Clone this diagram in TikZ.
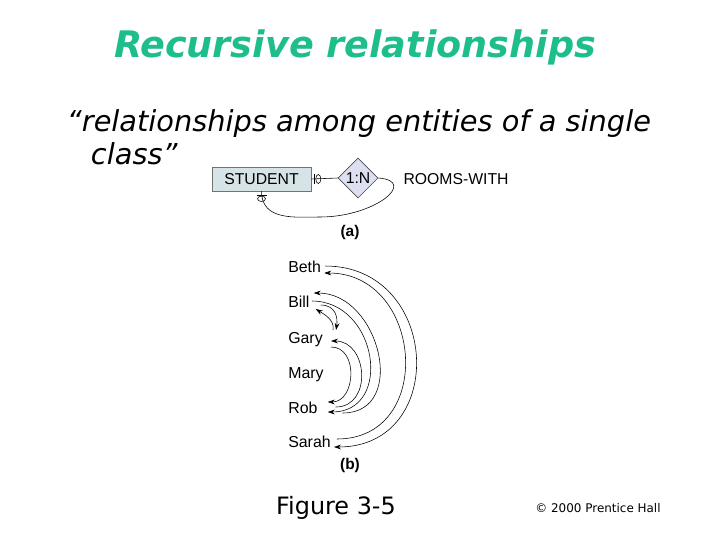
\documentclass[tikz,border=0pt]{standalone}
\usepackage{fontspec}
\setmainfont{DejaVu Sans}
\newfontfamily\helv{Liberation Sans}
\usetikzlibrary{arrows.meta,shapes.geometric,positioning}
\definecolor{titlegreen}{RGB}{30,190,140}
\definecolor{entfill}{RGB}{214,227,231}
\definecolor{relfill}{RGB}{221,224,240}
\begin{document}
\begin{tikzpicture}[>={Stealth[length=5pt,width=3.4pt]},x=0.025cm,y=-0.025cm,
  person/.style={anchor=west,inner sep=0pt,text height=8pt,text depth=2pt,
    font=\helv\fontsize{11.3}{13}\selectfont},
  erlabel/.style={inner sep=1pt,font=\helv\fontsize{11.2}{13}\selectfont},
  entity/.style={erlabel,draw=black!55,fill=entfill,minimum width=2.475cm,minimum height=0.6cm},
  relship/.style={erlabel,diamond,draw=black!70,fill=relfill,inner sep=0pt,
    minimum width=1cm,minimum height=1cm},
  pair/.style={->,thin}]
\useasboundingbox (0,0) rectangle (720,540);
% title and quote
\node[anchor=base,text=titlegreen,font=\fontsize{26}{30}\bfseries\itshape\selectfont] (title) at (355,57) {Recursive relationships};
\node[anchor=base west,font=\fontsize{20.5}{24}\itshape\selectfont] (quote1) at (62,131) {“relationships among entities of a single};
\node[anchor=base west,font=\fontsize{20.5}{24}\itshape\selectfont] (quote2) at (86,164) {class”};
% (a) the E-R notation
\node[entity] (student) at (261.5,179) {STUDENT};
\node[relship] (rooms) at (358,178) {1:N};
\node[erlabel] (roomslabel) at (456,179) {ROOMS-WITH};
\node[erlabel,font=\helv\bfseries\fontsize{11}{13}\selectfont] (parta) at (350,232) {(a)};
\draw (student.east) -- (rooms.west);
\draw ([shift={(3,-5)}]student.east) -- ([shift={(3,5)}]student.east);
\draw ([shift={(7,0)}]student.east) ellipse (2.5 and 4.5);
\coordinate (loopbot) at (320,217);
\draw (rooms.east) .. controls +(40,3) and +(55,0) .. (loopbot)
  .. controls +(-24,0) and +(0,30) .. (student.south);
\draw ([shift={(-5,4)}]student.south) -- ([shift={(5,4)}]student.south);
\draw ([shift={(0,7.5)}]student.south) ellipse (4 and 2.7);
% (b) the instances
\node[person] (beth) at (288,268) {Beth};
\node[person] (bill) at (288,303) {Bill};
\node[person] (gary) at (288,339) {Gary};
\node[person] (mary) at (288,374) {Mary};
\node[person] (rob) at (288,409) {Rob};
\node[person] (sarah) at (288,443) {Sarah};
\draw[pair] ([shift={(4,-2)}]beth.east) .. controls +(115,0) and +(115,0) .. ([shift={(3,4)}]sarah.east);
\draw[pair] ([shift={(6,-4)}]sarah.east) .. controls +(99,0) and +(99,0) .. ([shift={(3,5)}]beth.east);
\draw[pair] ([shift={(25,4)}]rob.east) .. controls +(66,0) and +(66,0) .. ([shift={(4,-10)}]bill.east);
\draw[pair] ([shift={(2,-2)}]bill.east) .. controls +(66,0) and +(66,0) .. ([shift={(10,3)}]rob.east);
\draw[pair] ([shift={(18,-2)}]rob.east) .. controls +(37,0) and +(37,0) .. ([shift={(8,2)}]gary.east);
\draw[pair] ([shift={(8,8)}]gary.east) .. controls +(28,0) and +(28,0) .. ([shift={(10,-7)}]rob.east);
\draw[pair] ([shift={(11,2)}]bill.east) .. controls +(15,0) and +(2,-12) .. ([shift={(13,-9)}]gary.east);
\draw[pair] ([shift={(10,-9)}]gary.east) .. controls +(2,-10) and +(8,5) .. ([shift={(6,6)}]bill.east);
\node[erlabel,font=\helv\bfseries\fontsize{11}{13}\selectfont] (partb) at (350,465) {(b)};
% captions
\node[anchor=base,font=\fontsize{17}{20}\selectfont] (figcap) at (336,514) {Figure 3-5};
\node[anchor=base,font=\fontsize{8.5}{10}\selectfont] (credit) at (598,512) {© 2000 Prentice Hall};
\end{tikzpicture}
\end{document}
